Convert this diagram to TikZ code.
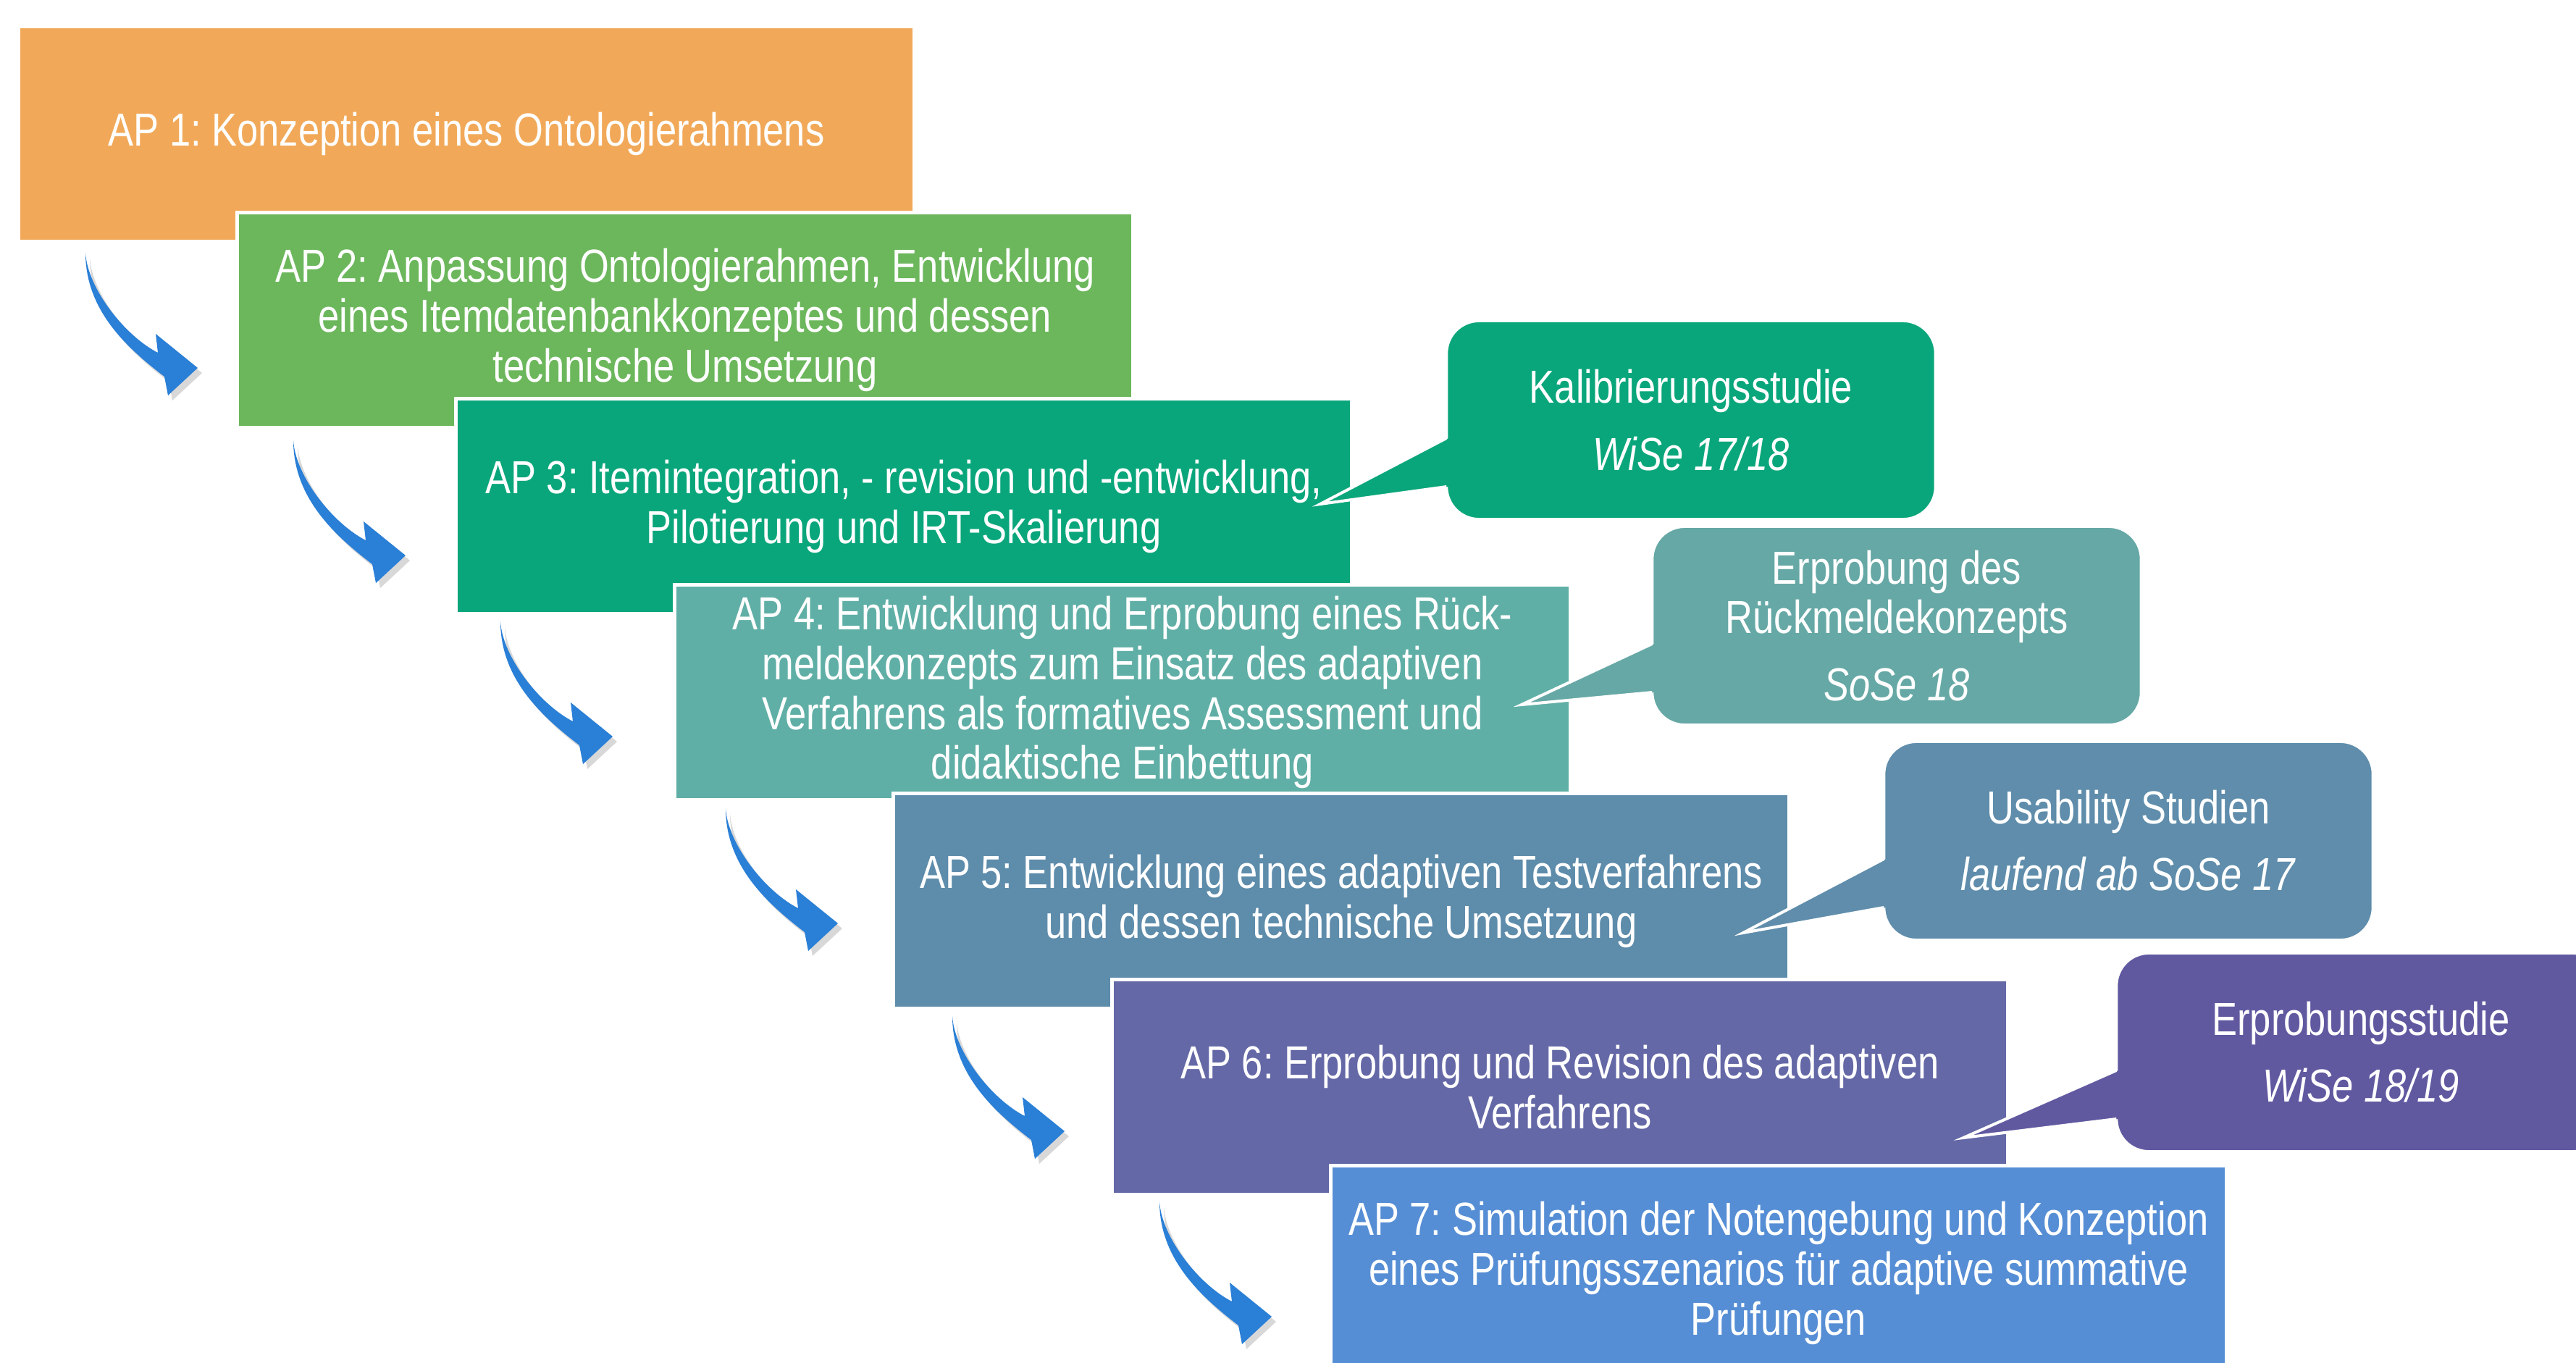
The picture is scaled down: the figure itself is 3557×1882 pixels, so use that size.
\documentclass[tikz,border=0pt]{standalone}
\usepackage{fontspec}
\setmainfont{Liberation Sans}[FakeStretch=0.82]
\usetikzlibrary{shapes,positioning,calc,shadows}
\definecolor{apone}{HTML}{F1A959}
\definecolor{aptwo}{HTML}{6CB75C}
\definecolor{apthree}{HTML}{0AA67B}
\definecolor{apfour}{HTML}{60AFA6}
\definecolor{apfive}{HTML}{5E8CAB}
\definecolor{apsix}{HTML}{6468A6}
\definecolor{apseven}{HTML}{568ED5}
\definecolor{kalcol}{HTML}{0AA67B}
\definecolor{rueckcol}{HTML}{66A8A5}
\definecolor{usecol}{HTML}{5F8DAB}
\definecolor{erpcol}{HTML}{6059A0}
\definecolor{arrowblue}{HTML}{2A7FD6}
\frenchspacing
\newcommand{\apfont}{\fontsize{18.2}{19.6}\selectfont}
\tikzset{
apbox/.style = {draw=white, line width=0.05cm, rectangle, minimum width=12.36cm, minimum height=2.97cm, text=white, align=center, font=\apfont},
studybox/.style = {draw=white, line width=0.04cm, rectangle, rounded corners=0.45cm, minimum width=6.75cm, minimum height=2.74cm, text=white, align=center, font=\apfont},
pointtip/.style = {coordinate},
pointline/.style = {draw=white, line width=0.04cm},
steparrow/.pic = {
  \fill [arrowblue, drop shadow={shadow xshift=0.06cm, shadow yshift=-0.07cm, opacity=0.3}]
    (0,0) .. controls (0,80) and (58,132) .. (109,171) -- (114,197) -- (155,159)
    -- (97,112) -- (100,138) .. controls (55,115) and (3,50) .. (0,0) -- cycle;
}
}

\begin{document}
\begin{tikzpicture}[x=0.01cm, y=-0.01cm]
		\clip (0,0) rectangle (3557,1882);
		\fill [white] (0,0) rectangle (3557,1882);

		% arbeitspakete
		\node [apbox, fill=apone] (ap1) at (644,185) {AP 1: Konzeption eines Ontologierahmens};
		\node [apbox, fill=aptwo] (ap2) at ($(ap1)+(302,257)$) {AP 2: Anpassung Ontologierahmen, Entwicklung\\eines Itemdatenbankkonzeptes und dessen\\technische Umsetzung};
		\node [apbox, fill=apthree] (ap3) at ($(ap2)+(302,257)$) {AP 3: Itemintegration, - revision und -entwicklung,\\Pilotierung und IRT-Skalierung};
		\node [apbox, fill=apfour] (ap4) at ($(ap3)+(302,257)$) {AP 4: Entwicklung und Erprobung eines Rück-\\meldekonzepts zum Einsatz des adaptiven\\Verfahrens als formatives Assessment und\\didaktische Einbettung};
		\node [apbox, fill=apfive] (ap5) at ($(ap4)+(302,288)$) {AP 5: Entwicklung eines adaptiven Testverfahrens\\und dessen technische Umsetzung};
		\node [apbox, fill=apsix] (ap6) at ($(ap5)+(302,257)$) {AP 6: Erprobung und Revision des adaptiven\\Verfahrens};
		\node [apbox, fill=apseven] (ap7) at ($(ap6)+(302,257)$) {AP 7: Simulation der Notengebung und Konzeption\\eines Prüfungsszenarios für adaptive summative\\Prüfungen};

		% pfeile
		\pic at (118,349) {steparrow};
		\pic at (405,608) {steparrow};
		\pic at (691,858) {steparrow};
		\pic at (1002,1116) {steparrow};
		\pic at (1315,1403) {steparrow};
		\pic at (1601,1659) {steparrow};

		% studien
		\node [studybox, fill=kalcol] (kal) at (2335,580) {Kalibrierungsstudie\\[7pt]\textit{WiSe 17/18}};
		\node [studybox, fill=rueckcol] (rueck) at (2619,864) {Erprobung des\\Rückmeldekonzepts\\[6.8pt]\textit{SoSe 18}};
		\node [studybox, fill=usecol] (usab) at (2939,1161) {Usability Studien\\[6.5pt]\textit{laufend ab SoSe 17}};
		\node [studybox, fill=erpcol] (erp) at (3260,1453) {Erprobungsstudie\\[6.5pt]\textit{WiSe 18/19}};

		\coordinate [pointtip] (kaltip) at (1823,696);
		\coordinate [pointtip] (rueckstip) at (2101,973);
		\coordinate [pointtip] (usabtip) at (2407,1288);
		\coordinate [pointtip] (erptip) at (2711,1571);

		\fill [kalcol] ($(kal.west)+(5,25)$) -- (kaltip) -- ($(kal.west)+(5,92)$) -- cycle;
		\draw [pointline] ($(kal.west)+(2,25)$) -- (kaltip) -- ($(kal.west)+(2,92)$);
		\fill [rueckcol] ($(rueck.west)+(5,25)$) -- (rueckstip) -- ($(rueck.west)+(5,92)$) -- cycle;
		\draw [pointline] ($(rueck.west)+(2,25)$) -- (rueckstip) -- ($(rueck.west)+(2,92)$);
		\fill [usecol] ($(usab.west)+(5,25)$) -- (usabtip) -- ($(usab.west)+(5,92)$) -- cycle;
		\draw [pointline] ($(usab.west)+(2,25)$) -- (usabtip) -- ($(usab.west)+(2,92)$);
		\fill [erpcol] ($(erp.west)+(5,25)$) -- (erptip) -- ($(erp.west)+(5,92)$) -- cycle;
		\draw [pointline] ($(erp.west)+(2,25)$) -- (erptip) -- ($(erp.west)+(2,92)$);
\end{tikzpicture}
\end{document}
